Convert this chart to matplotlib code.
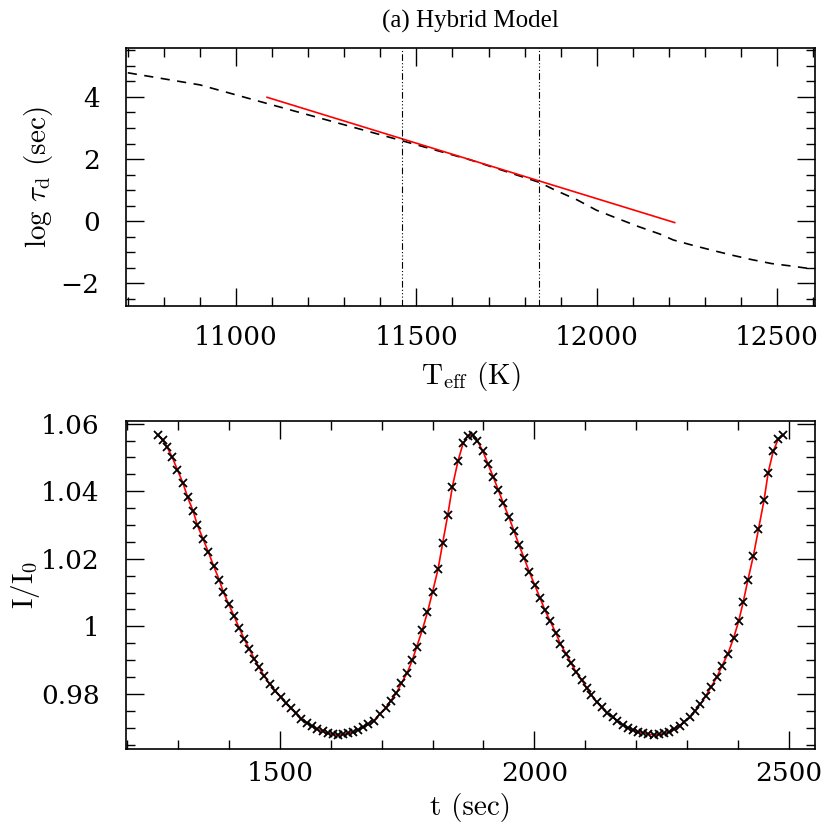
import numpy as np
import matplotlib
matplotlib.use('Agg')
import matplotlib.pyplot as plt
from matplotlib.ticker import MultipleLocator, FuncFormatter

plt.rcParams['font.family'] = 'cmr10'
plt.rcParams['mathtext.fontset'] = 'cm'
plt.rcParams['axes.formatter.use_mathtext'] = True

# top panel: log tau_d vs Teff
teff_model = [10700, 10900, 11086, 11270, 11454, 11650, 11840, 11884, 11946, 11999,
              12056, 12116, 12175, 12212, 12262, 12319, 12375, 12428, 12484, 12539, 12600]
logtau_model = [4.78, 4.39, 3.79, 3.20, 2.61, 1.97, 1.25, 1.00, 0.68, 0.35,
                0.09, -0.18, -0.42, -0.61, -0.77, -0.94, -1.10, -1.24, -1.37, -1.45, -1.55]
teff_fit = [11086, 12216]
logtau_fit = [3.99, -0.05]
teff_bounds = [11460, 11840]

# bottom panel: light curve
t_obs = [1260, 1270, 1279, 1289, 1299, 1310, 1319, 1330, 1338, 1349,
         1360, 1370, 1381, 1389, 1400, 1410, 1420, 1430, 1440, 1450,
         1459, 1469, 1480, 1491, 1502, 1512, 1522, 1531, 1542, 1554,
         1564, 1573, 1584, 1595, 1605, 1614, 1624, 1634, 1644, 1654,
         1664, 1674, 1685, 1696, 1708, 1718, 1729, 1739, 1750, 1760,
         1769, 1780, 1790, 1800, 1811, 1820, 1830, 1839, 1850, 1860,
         1870, 1879, 1888, 1899, 1909, 1919, 1929, 1939, 1950, 1960,
         1970, 1980, 1990, 2001, 2011, 2021, 2031, 2042, 2051, 2062,
         2072, 2082, 2093, 2103, 2112, 2122, 2132, 2142, 2154, 2163,
         2173, 2184, 2194, 2204, 2214, 2224, 2235, 2245, 2254, 2265,
         2275, 2285, 2294, 2306, 2315, 2326, 2337, 2347, 2358, 2368,
         2380, 2391, 2401, 2410, 2419, 2430, 2440, 2451, 2459, 2469,
         2479, 2489]
i_obs = [1.0567, 1.0552, 1.0530, 1.0500, 1.0463, 1.0424, 1.0382, 1.0341, 1.0300, 1.0260,
         1.0219, 1.0179, 1.0138, 1.0102, 1.0065, 1.0031, 0.9996, 0.9963, 0.9933, 0.9904,
         0.9879, 0.9854, 0.9830, 0.9810, 0.9790, 0.9772, 0.9757, 0.9743, 0.9727, 0.9714,
         0.9704, 0.9696, 0.9689, 0.9684, 0.9681, 0.9679, 0.9680, 0.9683, 0.9688, 0.9694,
         0.9701, 0.9711, 0.9721, 0.9740, 0.9759, 0.9780, 0.9803, 0.9832, 0.9862, 0.9899,
         0.9940, 0.9990, 1.0042, 1.0102, 1.0171, 1.0248, 1.0331, 1.0414, 1.0490, 1.0542,
         1.0565, 1.0566, 1.0549, 1.0518, 1.0480, 1.0443, 1.0404, 1.0364, 1.0323, 1.0282,
         1.0240, 1.0201, 1.0161, 1.0121, 1.0084, 1.0047, 1.0015, 0.9981, 0.9948, 0.9919,
         0.9891, 0.9864, 0.9841, 0.9817, 0.9797, 0.9777, 0.9760, 0.9745, 0.9732, 0.9721,
         0.9709, 0.9699, 0.9693, 0.9688, 0.9685, 0.9681, 0.9679, 0.9680, 0.9683, 0.9688,
         0.9696, 0.9706, 0.9718, 0.9732, 0.9750, 0.9770, 0.9795, 0.9821, 0.9849, 0.9882,
         0.9919, 0.9965, 1.0015, 1.0072, 1.0136, 1.0209, 1.0288, 1.0374, 1.0455, 1.0519,
         1.0555, 1.0567]

fig = plt.figure(figsize=(8.24, 8.30), dpi=100)
ax1 = fig.add_axes([0.1529, 0.6313, 0.8362, 0.3109])
ax2 = fig.add_axes([0.1529, 0.0976, 0.8362, 0.3952])

fmt = FuncFormatter(lambda v, p: ('%g' % v).replace('-', '\u2212'))

def style(ax, xpad):
    for s in ax.spines.values():
        s.set_linewidth(1.2)
    ax.tick_params(which='both', direction='in', top=True, right=True,
                   labelsize=19, width=1.0, labelfontfamily='DejaVu Serif')
    ax.tick_params(which='major', length=13)
    ax.tick_params(which='minor', length=6.5)
    ax.tick_params(axis='y', pad=19)
    ax.tick_params(axis='x', pad=xpad)
    ax.xaxis.set_major_formatter(fmt)
    ax.yaxis.set_major_formatter(fmt)

# top
ax1.plot(teff_model, logtau_model, color='black', lw=1.2, dashes=(5.5, 4.5))
ax1.plot(teff_fit, logtau_fit, color='red', lw=1.2)
for tb in teff_bounds:
    ax1.axvline(tb, color='black', lw=0.8, ls=(0, (6, 2, 1, 2, 1, 2, 1, 2)))
ax1.set_xlim(10695, 12605)
ax1.set_ylim(-2.74, 5.58)
ax1.xaxis.set_major_locator(MultipleLocator(500))
ax1.xaxis.set_minor_locator(MultipleLocator(100))
ax1.yaxis.set_major_locator(MultipleLocator(2))
ax1.yaxis.set_minor_locator(MultipleLocator(0.5))
style(ax1, 14)
ax1.set_xlabel(r'T$_{\rm eff}$ (K)', fontsize=21, labelpad=7)
ax1.set_ylabel(r'log $\tau_{\rm d}$ (sec)', fontsize=21, labelpad=4)
ax1.set_title('(a) Hybrid Model', fontsize=18, family='Liberation Serif', pad=15)

# bottom
ax2.plot(t_obs, i_obs, color='red', lw=1.2, zorder=2)
ax2.plot(t_obs, i_obs, ls='none', marker='x', ms=6, mew=1.3, color='black', zorder=3)
ax2.set_xlim(1198, 2551)
ax2.set_ylim(0.9637, 1.0608)
ax2.xaxis.set_major_locator(MultipleLocator(500))
ax2.xaxis.set_minor_locator(MultipleLocator(100))
ax2.yaxis.set_major_locator(MultipleLocator(0.02))
ax2.yaxis.set_minor_locator(MultipleLocator(0.005))
style(ax2, 9)
ax2.set_xlabel('t (sec)', fontsize=21, labelpad=5)
ax2.set_ylabel(r'I/I$_0$', fontsize=21, labelpad=-1)

fig.savefig('out.png', dpi=100)
